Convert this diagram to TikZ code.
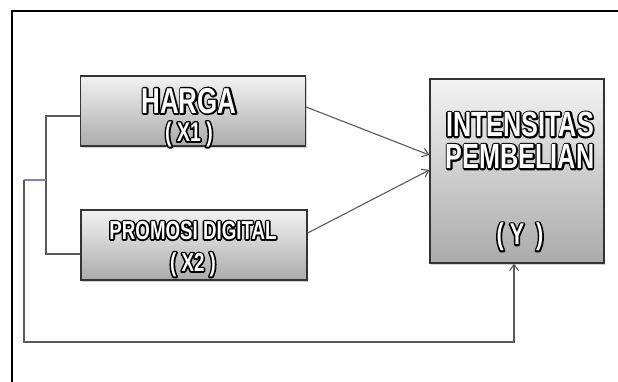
\documentclass[tikz,border=0pt]{standalone}
\usepackage{fontspec}
\newfontfamily\boxfont{Liberation Sans Bold}[FakeStretch=0.72]
\usetikzlibrary{arrows.meta,shadows}
% white letters on a black stroked copy
\newcommand{\outl}[2]{\fontsize{#1}{#1}\selectfont
  \rlap{\color{black}\special{pdf:literal direct 2 Tr 3.2 w 1 j}#2\special{pdf:literal direct 0 Tr 1 w 0 j}}#2}
\begin{document}
\begin{tikzpicture}[x=1pt, y=-1pt,
  box/.style={draw=black!80, line width=1.3pt, top color=black!5, bottom color=black!33,
              drop shadow={opacity=0.35, shadow xshift=1pt, shadow yshift=-2pt}},
  boxtext/.style={text=white, align=center, inner sep=0pt, anchor=north,
                  font=\boxfont\fontsize{20}{#1}\selectfont},
  link/.style={draw=black!65, line width=1.1pt},
  arr/.style={link, -{Straight Barb[length=6pt, width=9pt]}}]
\useasboundingbox (0,0) rectangle (618,381);
\fill[white] (0,0) rectangle (618,381);
\draw[line width=2pt] (12,383) -- (12,11) -- (620,11);
% boxes
\node[box, minimum width=225pt, minimum height=70pt] (harga) at (193,111) {};
\node[box, minimum width=226pt, minimum height=70pt] (promosi) at (194,245) {};
\node[box, minimum width=174pt, minimum height=184pt] (intens) at (517,171) {};
% box texts
\node[boxtext=28pt] (harga-txt) at ([xshift=-4pt, yshift=23pt]harga.center)
  {\outl{36}{HARGA}\\\outl{27}{( X1 )}};
\node[boxtext=32pt] (promosi-txt) at ([xshift=-1pt, yshift=24pt]promosi.center)
  {\outl{26}{PROMOSI DIGITAL}\\\outl{26}{( X2 )}};
\node[boxtext=32pt] (intens-txt) at ([xshift=3pt, yshift=59pt]intens.center)
  {\outl{35}{INTENSITAS}\\\outl{35}{PEMBELIAN}\\[44pt]\outl{30}{( Y \ )}};
% connectors
\coordinate (br) at (46,180);
\coordinate (loopstart) at (24,180);
\coordinate (loopend) at (24,342);
\draw[link] ([yshift=-5pt]harga.west) -| (br) |- ([yshift=-9pt]promosi.west);
\draw[draw=blue!45!gray!70, line width=1.1pt] (br) -- (loopstart);
\draw[arr] (loopstart) -- (loopend) -| ([xshift=-3pt]intens.south);
\draw[arr] ([yshift=4pt]harga.east) -- ([yshift=16pt]intens.west);
\draw[arr] ([yshift=12pt]promosi.east) -- ([yshift=1pt]intens.west);
\end{tikzpicture}
\end{document}
